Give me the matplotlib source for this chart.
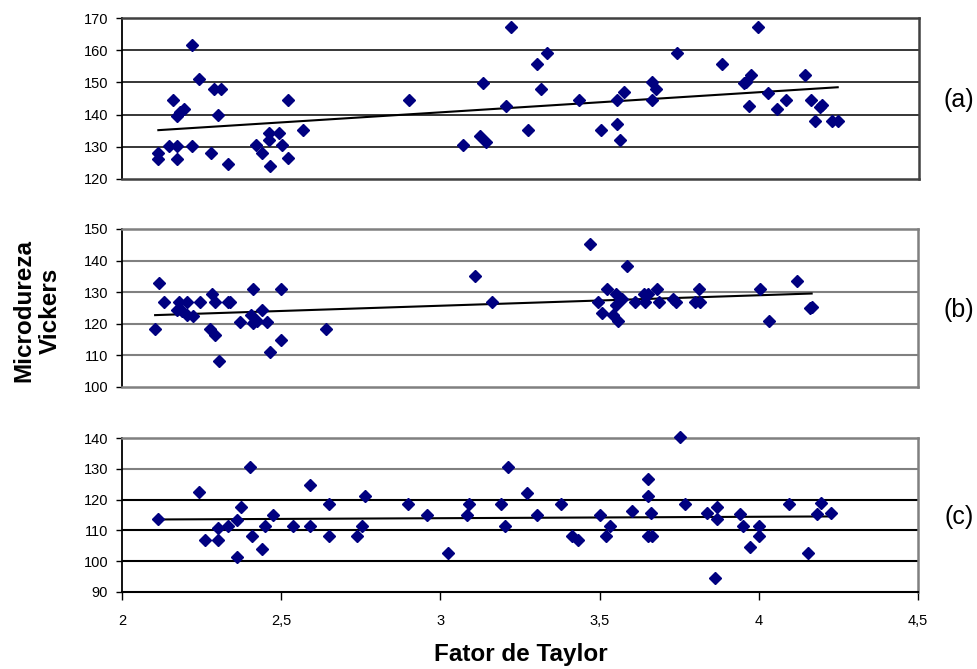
import numpy as np
import matplotlib
matplotlib.use("Agg")
import matplotlib.pyplot as plt
from matplotlib.ticker import FuncFormatter

plt.rcParams['font.family'] = ['Liberation Sans', 'DejaVu Sans']

# Panel (a)
xa = [2.114, 2.114, 2.148, 2.161, 2.173, 2.173, 2.174, 2.182, 2.193, 2.220, 2.220, 2.243,
      2.280, 2.290, 2.310, 2.300, 2.332, 2.420, 2.439, 2.461, 2.461, 2.463, 2.492, 2.503,
      2.522, 2.522, 2.568, 2.900,
      3.219, 3.332, 3.302, 3.131, 3.315, 3.203, 3.433, 3.552, 3.575, 3.663, 3.675, 3.663,
      3.740, 3.881, 3.951, 3.972, 3.957, 3.966, 3.071, 3.124, 3.142, 3.272, 3.502, 3.552,
      3.562,
      3.995, 4.025, 4.054, 4.083, 4.143, 4.160, 4.189, 4.197, 4.173, 4.226, 4.245]
ya = [128.2, 126.2, 130.3, 144.5, 130.3, 126.2, 139.7, 140.9, 141.8, 161.5, 130.3, 151.0,
      128.2, 148.0, 148.0, 139.8, 124.7, 130.6, 128.0, 134.2, 132.1, 123.9, 134.2, 130.5,
      144.5, 126.4, 135.2, 144.5,
      167.3, 159.2, 155.6, 149.9, 148.0, 142.8, 144.5, 144.5, 147.0, 150.1, 148.0, 144.5,
      159.2, 155.6, 149.9, 152.3, 150.2, 142.7, 130.5, 133.4, 131.6, 135.2, 135.2, 137.0,
      132.1,
      167.3, 146.8, 141.6, 144.5, 152.3, 144.5, 142.5, 143.0, 138.1, 138.1, 138.1]

# Panel (b)
xb = [2.104, 2.116, 2.133, 2.178, 2.205, 2.245, 2.172, 2.187, 2.205, 2.224, 2.282, 2.292,
      2.276, 2.292, 2.305, 2.334, 2.340, 2.371, 2.410, 2.404, 2.412, 2.423, 2.441, 2.454,
      2.465, 2.500, 2.500, 2.641,
      3.109, 3.162, 3.470, 3.587, 3.522, 3.496, 3.509, 3.553, 3.569, 3.553, 3.541, 3.559,
      3.611, 3.639, 3.653, 3.643, 3.681, 3.688, 3.730, 3.740, 3.800, 3.815, 3.813,
      4.004, 4.121, 4.166, 4.160, 4.033]
yb = [118.5, 132.8, 126.8, 126.8, 126.8, 126.8, 124.5, 124.1, 122.7, 122.5, 129.3, 126.8,
      118.5, 116.6, 108.2, 126.8, 126.8, 120.6, 131.0, 122.9, 120.1, 120.8, 124.5, 120.6,
      111.1, 131.0, 114.8, 118.5,
      135.2, 126.8, 145.2, 138.3, 131.0, 126.8, 123.3, 129.3, 128.0, 125.9, 122.7, 120.8,
      126.8, 129.3, 129.3, 126.8, 131.0, 126.8, 128.0, 126.8, 126.8, 126.8, 131.0,
      131.0, 133.5, 125.4, 125.0, 120.8]

# Panel (c)
xc = [2.114, 2.243, 2.261, 2.300, 2.302, 2.332, 2.360, 2.374, 2.360, 2.403, 2.409, 2.439,
      2.449, 2.473, 2.538, 2.591, 2.591, 2.650, 2.650, 2.739, 2.754, 2.763, 2.899, 2.959,
      3.025, 3.089, 3.083, 3.190, 3.203, 3.212, 3.271, 3.302, 3.379, 3.412, 3.433, 3.502,
      3.533, 3.520, 3.603, 3.651, 3.651, 3.663, 3.651, 3.665, 3.752, 3.769, 3.838, 3.870,
      3.870, 3.863, 3.941, 3.951, 3.972,
      4.001, 4.001, 4.095, 4.154, 4.194, 4.184, 4.226]
yc = [113.7, 122.4, 106.8, 110.7, 106.8, 111.5, 113.4, 117.5, 101.4, 130.7, 108.2, 103.9,
      111.5, 115.0, 111.5, 124.8, 111.5, 118.6, 108.2, 108.2, 111.5, 121.2, 118.6, 115.0,
      102.7, 118.6, 115.0, 118.6, 111.4, 130.7, 122.3, 115.0, 118.6, 108.2, 106.8, 115.0,
      111.4, 108.2, 116.3, 126.6, 121.2, 115.5, 108.2, 108.2, 140.2, 118.6, 115.5, 117.7,
      113.6, 94.7, 115.2, 111.4, 104.5,
      111.5, 108.1, 118.6, 102.7, 119.0, 115.2, 115.5]

panel_labels = ['(a)', '(b)', '(c)']
ylims = [(120, 170), (100, 150), (90, 140)]
xticks = [2, 2.5, 3, 3.5, 4, 4.5]

W, H = 978, 669
fig = plt.figure(figsize=(W / 100, H / 100), dpi=100)

# axes rects in pixels: left, top, right, bottom
rects = [(122, 18, 919, 179), (122, 229, 918, 387), (122, 438, 918, 592)]
navy = '#000080'
data = [(xa, ya), (xb, yb), (xc, yc)]
grid_colors = [
    ['black'] * 6,
    ['#808080'] * 6,
    ['black', 'black', 'black', 'black', '#808080', '#808080'],
]
frame_colors = ['#404040', '#808080', '#808080']

for i, (ax_rect, (x, y)) in enumerate(zip(rects, data)):
    l, t, r, b = ax_rect
    ax = fig.add_axes([l / W, 1 - b / H, (r - l) / W, (b - t) / H])
    lo, hi = ylims[i]
    ax.set_xlim(2, 4.5)
    ax.set_ylim(lo, hi)
    yt = np.arange(lo, hi + 1, 10)
    for k, v in enumerate(yt):
        if v in (lo, hi):
            continue
        ax.axhline(v, color=grid_colors[i][k], lw=1.1 if i == 0 else 1.5, zorder=1)
    ax.set_yticks(yt)
    ax.tick_params(axis='y', direction='out', length=4, width=1, labelsize=10.5, pad=6,
                   color='black')
    for s in ['top', 'right', 'bottom']:
        ax.spines[s].set_color(frame_colors[i])
        ax.spines[s].set_linewidth(1.8)
    ax.spines['left'].set_color('black')
    ax.spines['left'].set_linewidth(1.3)
    if i == 2:
        ax.spines['bottom'].set_color('black')
        ax.spines['bottom'].set_linewidth(1.5)
        ax.set_xticks(xticks)
        ax.xaxis.set_major_formatter(FuncFormatter(
            lambda v, p: ('%g' % v).replace('.', ',')))
        ax.tick_params(axis='x', direction='out', length=6, width=1, labelsize=10.5, pad=10)
    else:
        ax.set_xticks([])
    xs = np.array(x)
    ys = np.array(y)
    coef = np.polyfit(xs, ys, 1)
    xl = np.array([xs.min(), xs.max()])
    ax.plot(xl, np.polyval(coef, xl), color='black', lw=1.5, zorder=3)
    ax.plot(xs, ys, linestyle='none', marker='D', ms=6.6, color=navy,
            markeredgecolor=navy, zorder=4, clip_on=False)
    ax.text(959 / W, 1 - ((t + b) / 2 + 2) / H, panel_labels[i], transform=fig.transFigure,
            fontsize=18, ha='center', va='center')

fig.text(37 / W, 1 - 311 / H, 'Microdureza\nVickers', rotation=90, fontsize=17.5,
         fontweight='bold', ha='center', va='center', linespacing=1.15)
fig.text(521 / W, 1 - 654 / H, 'Fator de Taylor', fontsize=17.5, fontweight='bold',
         ha='center', va='center')

fig.savefig('out.png', dpi=100)
